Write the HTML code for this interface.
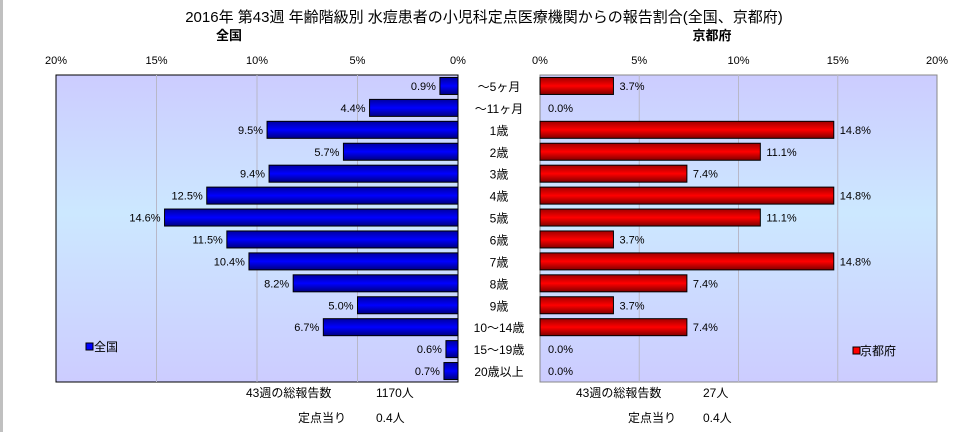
<!DOCTYPE html>
<html><head><meta charset="utf-8">
<style>
body{margin:0;width:968px;height:432px;background:#fff;overflow:hidden;font-family:"Liberation Sans","Noto Sans CJK JP",sans-serif;}
svg text{font-family:"Liberation Sans","Noto Sans CJK JP",sans-serif;}
</style></head><body>
<svg width="968" height="432">
<defs>
<linearGradient id="bg" x1="0" y1="0" x2="0" y2="1">
<stop offset="0" stop-color="#ccccff"/><stop offset="0.45" stop-color="#cce8ff"/><stop offset="1" stop-color="#ccccff"/>
</linearGradient>
<linearGradient id="bl" x1="0" y1="0" x2="0" y2="1">
<stop offset="0" stop-color="#0000a0"/><stop offset="0.5" stop-color="#0000ff"/><stop offset="1" stop-color="#000080"/>
</linearGradient>
<linearGradient id="rd" x1="0" y1="0" x2="0" y2="1">
<stop offset="0" stop-color="#a00000"/><stop offset="0.5" stop-color="#ff0000"/><stop offset="1" stop-color="#800000"/>
</linearGradient>
</defs>
<rect x="0" y="0" width="3" height="432" fill="#c0c0c0"/>
<text x="484" y="22" font-size="15" text-anchor="middle">2016年 第43週 年齢階級別 水痘患者の小児科定点医療機関からの報告割合(全国、京都府)</text>
<text x="229" y="40" font-size="13" font-weight="bold" text-anchor="middle">全国</text>
<text x="712" y="40" font-size="13" font-weight="bold" text-anchor="middle">京都府</text>
<g id="L"></g><g id="R"></g><g id="C"></g>
<g><rect x="86" y="343" width="7" height="7" fill="#0000ff" stroke="#000"/><text x="94" y="351" font-size="12">全国</text></g>
<g><rect x="853" y="347" width="7" height="7" fill="#ff0000" stroke="#000"/><text x="860" y="355" font-size="12">京都府</text></g>
<g font-size="12">
<text x="246" y="397">43週の総報告数</text><text x="376" y="397">1170人</text>
<text x="298" y="422">定点当り</text><text x="376" y="422">0.4人</text>
<text x="576" y="397">43週の総報告数</text><text x="703" y="397">27人</text>
<text x="628" y="422">定点当り</text><text x="703" y="422">0.4人</text>
</g>
</svg>
<script>
const categories=["～5ヶ月","～11ヶ月","1歳","2歳","3歳","4歳","5歳","6歳","7歳","8歳","9歳","10～14歳","15～19歳","20歳以上"];
const nationalValues=[0.9,4.4,9.5,5.7,9.4,12.5,14.6,11.5,10.4,8.2,5.0,6.7,0.6,0.7];
const kyotoValues=[3.7,0.0,14.8,11.1,7.4,14.8,11.1,3.7,14.8,7.4,3.7,7.4,0.0,0.0];
const tickValues=[0,5,10,15,20];
const NS="http://www.w3.org/2000/svg";
const plotTop=75,plotBottom=382,pitch=(plotBottom-plotTop)/categories.length,barH=17;
const xL=v=>458-v*(458-56)/20;
const xR=v=>540+v*(937-540)/20;
const yC=i=>plotTop+pitch*(i+0.5);
function mk(p,t,a){const e=document.createElementNS(NS,t);for(const k in a)e.setAttribute(k,a[k]);p.appendChild(e);return e;}
function panel(g,x0,x1,xf,vals,fill,left,name){
  const bg=mk(g,'rect',{x:x0,y:plotTop,width:x1-x0,height:plotBottom-plotTop,fill:'url(#bg)',stroke:left?'#000':'#888'});
  
  
  tickValues.forEach(t=>{
    const x=xf(t);
    if(t>0&&t<20){const gl=mk(g,'line',{x1:x,x2:x,y1:plotTop,y2:plotBottom,stroke:'#b8b8c8'});
    
    }
    const tx=mk(g,'text',{x:x,y:64,'font-size':11,'text-anchor':'middle'});tx.textContent=t+'%';
    
    
  });
  vals.forEach((v,i)=>{
    const y=yC(i);
    if(v>0){
      const xa=xf(0),xb=xf(v);
      const r=mk(g,'rect',{x:Math.min(xa,xb),y:y-barH/2,width:Math.abs(xb-xa),height:barH,fill:fill,stroke:'#000'});
      
      
    }
    const lb=mk(g,'text',{x:left?xf(v)-4:(v>0?xf(v)+6:xf(0)+8),y:y+4,'font-size':11,'text-anchor':left?'end':'start'});
    lb.textContent=v.toFixed(1)+'%';
    
    
  });
}
panel(document.getElementById('L'),56,458,xL,nationalValues,'url(#bl)',true,'national');
panel(document.getElementById('R'),540,937,xR,kyotoValues,'url(#rd)',false,'kyoto');
const C=document.getElementById('C');
categories.forEach((c,i)=>{
  const t=mk(C,'text',{x:499,y:yC(i)+5,'font-size':12,'text-anchor':'middle'});t.textContent=c;
  
  
});
</script>
</body></html>
